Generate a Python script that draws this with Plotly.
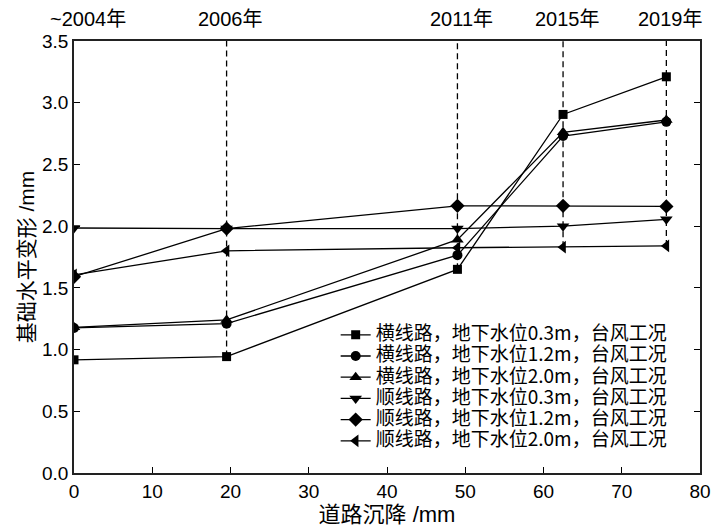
import plotly.graph_objects as go

# ---- data ----
settlement = [0, 19.5, 49, 62.5, 75.7]          # 道路沉降 /mm
years = ["~2004年", "2006年", "2011年", "2015年", "2019年"]

names = [
    "横线路，地下水位0.3m，台风工况",
    "横线路，地下水位1.2m，台风工况",
    "横线路，地下水位2.0m，台风工况",
    "顺线路，地下水位0.3m，台风工况",
    "顺线路，地下水位1.2m，台风工况",
    "顺线路，地下水位2.0m，台风工况",
]
heng_03 = [0.917, 0.943, 1.65, 2.905, 3.21]
heng_12 = [1.175, 1.21, 1.765, 2.73, 2.845]
heng_20 = [1.18, 1.24, 1.89, 2.76, 2.86]
shun_03 = [1.985, 1.98, 1.98, 2.00, 2.055]
shun_12 = [1.59, 1.98, 2.165, 2.165, 2.16]
shun_20 = [1.605, 1.80, 1.825, 1.83, 1.84]
series = [heng_03, heng_12, heng_20, shun_03, shun_12, shun_20]

symbols = ["square", "circle", "triangle-up", "triangle-down", "diamond", "triangle-left"]
msizes = [9, 10, 11, 11, 11, 11]

X_MAX = 80
Y_MAX = 3.5

CJK = "Noto Sans CJK SC"
SANS = "Liberation Sans, Noto Sans CJK SC"

fig = go.Figure()
for name, ys, sym, ms in zip(names, series, symbols, msizes):
    fig.add_trace(go.Scatter(
        x=settlement, y=ys, mode="lines+markers",
        name=f'<span style="font-size:19px">{name}</span>',
        line=dict(color="black", width=1.3),
        marker=dict(symbol=sym, size=ms, color="black", line=dict(width=0)),
        cliponaxis=True,
    ))

# dashed vertical guide lines from lowest value at each year up to the top
for i in range(1, len(settlement)):
    low = min(s[i] for s in series)
    fig.add_shape(type="line", xref="x", yref="y",
                  x0=settlement[i], x1=settlement[i], y0=low, y1=Y_MAX,
                  line=dict(color="black", width=1.3, dash="6px,4px"), layer="below")

# year labels above the plot
for i, yr in enumerate(years):
    if i == 0:
        fig.add_annotation(x=settlement[i], y=1, xref="x", yref="paper",
                           text=yr, showarrow=False, yanchor="bottom",
                           xanchor="left", xshift=-26, yshift=9,
                           font=dict(family=SANS, size=20, color="black"))
    else:
        fig.add_annotation(x=settlement[i], y=1, xref="x", yref="paper",
                           text=yr, showarrow=False, yanchor="bottom",
                           xanchor="center", xshift=4, yshift=9,
                           font=dict(family=SANS, size=20, color="black"))

fig.update_layout(
    width=712, height=532,
    margin=dict(l=74, r=12, t=41, b=59),
    paper_bgcolor="white", plot_bgcolor="white",
    showlegend=True,
    legend=dict(x=0.418, y=0.356, xanchor="left", yanchor="top",
                bgcolor="rgba(0,0,0,0)", font=dict(family=CJK, size=14, color="black"),
                tracegroupgap=0, itemwidth=30),
    xaxis=dict(range=[0, X_MAX], tickmode="array", tickvals=list(range(0, 81, 10)),
               ticks="inside", ticklen=6, tickwidth=1.3, tickcolor="black",
               showline=True, linecolor="#222", linewidth=1.5, mirror=True,
               showgrid=False, zeroline=False, automargin=False,
               tickfont=dict(family=SANS, size=19, color="black"),
               title=dict(text="道路沉降 /mm", font=dict(family=SANS, size=22, color="black"),
                          standoff=4)),
    yaxis=dict(range=[0, Y_MAX], tickmode="array", tickvals=[0, 0.5, 1, 1.5, 2, 2.5, 3, 3.5],
               tickformat=".1f",
               ticks="inside", ticklen=6, tickwidth=1.3, tickcolor="black",
               showline=True, linecolor="#222", linewidth=1.5, mirror="ticks",
               showgrid=False, zeroline=False, automargin=False,
               tickfont=dict(family=SANS, size=19, color="black"),
               title=dict(text="基础水平变形 /mm", font=dict(family=SANS, size=21, color="black"),
                          standoff=2)),
)

fig.write_html("out.html")
